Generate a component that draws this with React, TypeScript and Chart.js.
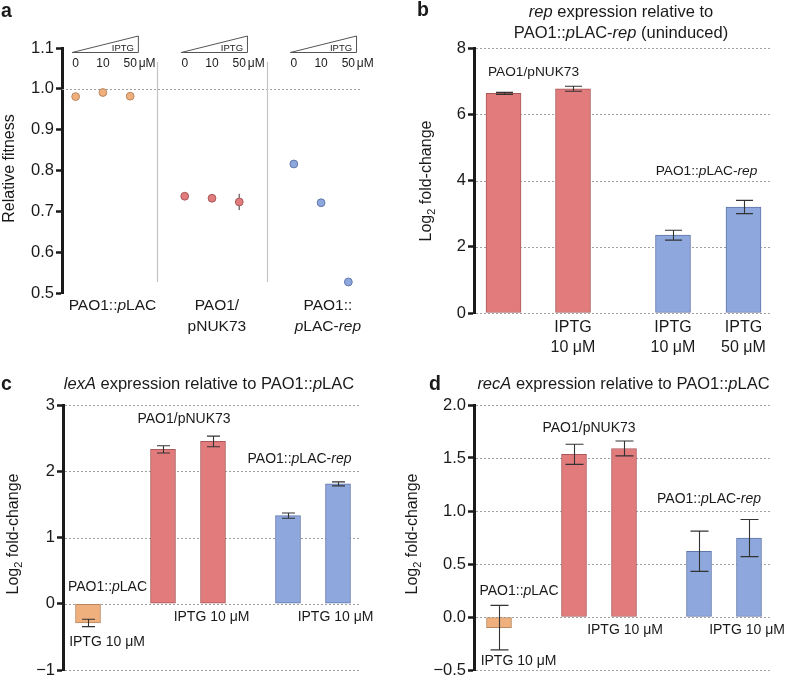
import React, { useEffect, useRef } from "react";
import { Chart, registerables } from "chart.js";
Chart.register(...registerables);

const FONT = "'Liberation Sans', Arial, Helvetica, sans-serif";
const INK = "#1a1a1a";

// ---------- Panel a : relative fitness ----------
const doseLabels = ["0", "10", "50"];
const fitnessGroupLabels = [["PAO1::*p*LAC"], ["PAO1/", "pNUK73"], ["PAO1::", "*p*LAC-*rep*"]];
const fitnessPLAC = [0.981, 0.991, 0.982];
const fitnessPNUK = [0.737, 0.732, 0.723];
const fitnessRep = [0.816, 0.721, 0.527];
const fitnessErrPLAC = [0.008, 0.005, 0.005];
const fitnessErrPNUK = [0.004, 0.004, 0.02];
const fitnessErrRep = [0.003, 0.003, 0.003];

// ---------- Panel b : rep expression ----------
const repTickLabels = [[], ["IPTG", "10 μM"], ["IPTG", "10 μM"], ["IPTG", "50 μM"]];
const repValues = [6.63, 6.77, 2.35, 3.2];
const repErrors = [0.03, 0.075, 0.15, 0.2];
const repStrain = [1, 1, 2, 2];

// ---------- Panel c : lexA expression ----------
const lexAValues = [-0.29, 2.33, 2.45, 1.33, 1.81];
const lexAErrors = [0.055, 0.055, 0.08, 0.04, 0.03];

// ---------- Panel d : recA expression ----------
const recAValues = [-0.1, 1.535, 1.59, 0.62, 0.745];
const recAErrors = [0.21, 0.095, 0.07, 0.19, 0.175];

const qpcrStrain = [0, 1, 1, 2, 2];

const FILL = ["#EFB07D", "#E27B7C", "#8EA8DD"];
const EDGE = ["#B8875F", "#A9595B", "#6076AA"];

function drawRich(
  ctx: CanvasRenderingContext2D,
  markup: string,
  x: number,
  y: number,
  size: number,
  align: "center" | "left" | "right" = "center",
  baseline: CanvasTextBaseline = "middle",
  weight = "normal"
) {
  const parts = markup.split("*");
  ctx.save();
  ctx.textBaseline = baseline;
  ctx.textAlign = "left";
  ctx.fillStyle = INK;
  const fonts = parts.map((_, i) => `${i % 2 ? "italic " : ""}${weight} ${size}px ${FONT}`);
  let total = 0;
  const widths = parts.map((p, i) => {
    ctx.font = fonts[i];
    const w = ctx.measureText(p).width;
    total += w;
    return w;
  });
  let cx = align === "center" ? x - total / 2 : align === "right" ? x - total : x;
  parts.forEach((p, i) => {
    ctx.font = fonts[i];
    ctx.fillText(p, cx, y);
    cx += widths[i];
  });
  ctx.restore();
}

function drawYTitle(ctx: CanvasRenderingContext2D, cx: number, cy: number, pre: string, sub: string, post: string, size: number) {
  ctx.save();
  ctx.translate(cx, cy);
  ctx.rotate(-Math.PI / 2);
  ctx.fillStyle = INK;
  ctx.textBaseline = "middle";
  ctx.textAlign = "left";
  const main = `${size}px ${FONT}`;
  const small = `${Math.round(size * 0.7)}px ${FONT}`;
  ctx.font = main;
  const w1 = ctx.measureText(pre).width;
  const w3 = ctx.measureText(post).width;
  ctx.font = small;
  const w2 = sub ? ctx.measureText(sub).width : 0;
  const total = w1 + w2 + w3;
  let x = -total / 2;
  ctx.font = main;
  ctx.fillText(pre, x, 0);
  x += w1;
  if (sub) {
    ctx.font = small;
    ctx.fillText(sub, x, size * 0.32);
    x += w2;
  }
  ctx.font = main;
  ctx.fillText(post, x, 0);
  ctx.restore();
}

function fmt(v: number, decimals: number) {
  const n = Math.abs(v) < 1e-9 ? 0 : v;
  return n.toFixed(decimals).replace("-", "−");
}

function yScale(min: number, max: number, step: number, width: number, decimals: number) {
  return {
    min,
    max,
    ticks: {
      stepSize: step,
      color: INK,
      font: { family: FONT, size: 16.5 },
      padding: 2,
      callback: (v: any) => fmt(Number(v), decimals),
    },
    grid: { drawOnChartArea: false, drawTicks: true, tickLength: 6, tickColor: INK, tickWidth: 2.5 },
    border: { display: true, color: INK, width: 3 },
    afterFit: (s: any) => {
      s.width = width;
      s.paddingTop = 0;
      s.paddingBottom = 0;
    },
  };
}

function dotted(ctx: CanvasRenderingContext2D, x0: number, x1: number, y: number) {
  ctx.save();
  ctx.strokeStyle = "#a0a0a0";
  ctx.lineWidth = 1;
  ctx.setLineDash([2, 2]);
  ctx.beginPath();
  ctx.moveTo(x0, Math.round(y) + 0.5);
  ctx.lineTo(x1, Math.round(y) + 0.5);
  ctx.stroke();
  ctx.restore();
}

function errorBar(ctx: CanvasRenderingContext2D, x: number, yTop: number, yBot: number, cap: number, color: string, lw: number) {
  ctx.save();
  ctx.strokeStyle = color;
  ctx.lineWidth = lw;
  ctx.beginPath();
  ctx.moveTo(x, yTop);
  ctx.lineTo(x, yBot);
  if (cap > 0) {
    ctx.moveTo(x - cap / 2, yTop);
    ctx.lineTo(x + cap / 2, yTop);
    ctx.moveTo(x - cap / 2, yBot);
    ctx.lineTo(x + cap / 2, yBot);
  }
  ctx.stroke();
  ctx.restore();
}

// ---------------- Panel a config ----------------
function makeFitness(): any {
  const groups = [fitnessPLAC, fitnessPNUK, fitnessRep];
  const errs = [fitnessErrPLAC, fitnessErrPNUK, fitnessErrRep];
  const slot = (g: number, i: number) => g * 4 + i + 0.5;
  const groupCenters = [1.85, 5.68, 9.75];
  const plugin = {
    id: "fitDecor",
    beforeDatasetsDraw(chart: any) {
      const { ctx, chartArea, scales } = chart;
      const xs = scales.x, ys = scales.y;
      dotted(ctx, chartArea.left, chartArea.right, ys.getPixelForValue(1.0));
      ctx.save();
      ctx.strokeStyle = "#c4c4c4";
      ctx.lineWidth = 1.2;
      [3.5, 7.5].forEach((v) => {
        const x = Math.round(xs.getPixelForValue(v)) + 0.5;
        ctx.beginPath();
        ctx.moveTo(x, ys.getPixelForValue(1.066));
        ctx.lineTo(x, ys.getPixelForValue(0.527));
        ctx.stroke();
      });
      ctx.restore();
      groups.forEach((vals, g) =>
        vals.forEach((v, i) => {
          const x = xs.getPixelForValue(slot(g, i));
          errorBar(ctx, x, ys.getPixelForValue(v + errs[g][i]), ys.getPixelForValue(v - errs[g][i]), 0, "#777", 1.5);
        })
      );
    },
    afterDraw(chart: any) {
      const { ctx, chartArea, scales } = chart;
      const xs = scales.x;
      for (let g = 0; g < 3; g++) {
        const x0 = xs.getPixelForValue(g * 4 + 0.37);
        const x1 = xs.getPixelForValue(g * 4 + 2.8);
        const yb = chartArea.top + 4.5;
        const yt = chartArea.top - 12;
        ctx.save();
        ctx.strokeStyle = "#555";
        ctx.lineWidth = 1;
        ctx.beginPath();
        ctx.moveTo(x0, yb);
        ctx.lineTo(x1, yt);
        ctx.lineTo(x1, yb);
        ctx.closePath();
        ctx.stroke();
        ctx.restore();
        drawRich(ctx, "IPTG", x1 - 15.5, chartArea.top, 9.5);
        doseLabels.forEach((d, i) => {
          drawRich(ctx, d, xs.getPixelForValue(slot(g, i)), chartArea.top + 15.5, 12);
        });
        drawRich(ctx, "μM", xs.getPixelForValue(slot(g, 2)) + 8.5, chartArea.top + 15.5, 12, "left");
        fitnessGroupLabels[g].forEach((line, k) => {
          drawRich(ctx, line, xs.getPixelForValue(groupCenters[g]), chartArea.bottom + 13 + k * 21, 15.5);
        });
      }
      drawYTitle(ctx, 10, (chartArea.top + chartArea.bottom) / 2 - 2, "Relative fitness", "", "", 16);
      drawRich(ctx, "a", 1, 17, 19.5, "left", "alphabetic", "bold");
    },
  };
  return {
    type: "scatter",
    data: {
      datasets: groups.map((vals, g) => ({
        data: vals.map((v, i) => ({ x: slot(g, i), y: v })),
        backgroundColor: FILL[g],
        borderColor: EDGE[g],
        borderWidth: 1,
        pointRadius: 3.9,
        pointHoverRadius: 3.9,
      })),
    },
    options: {
      animation: false,
      responsive: false,
      devicePixelRatio: 1,
      layout: { padding: { left: 0, top: 48, right: 32, bottom: 67 } },
      plugins: { legend: { display: false }, tooltip: { enabled: false } },
      scales: {
        x: { type: "linear", min: 0, max: 11, offset: false, display: false },
        y: yScale(0.5, 1.1, 0.1, 62, 1),
      },
    },
    plugins: [plugin],
  };
}

// ---------------- bar config ----------------
type Ann = { t: string; x: number; y: number; size: number };
function makeBars(o: {
  values: number[];
  errors: number[];
  strains: number[];
  slots: number[];
  thickness: number;
  cap: number;
  yMin: number;
  yMax: number;
  step: number;
  decimals: number;
  yWidth: number;
  padding: any;
  anns: Ann[];
  xLabels?: string[][];
  titles: { t: string; x: number; y: number }[];
  letter: { t: string; x: number; y: number };
  yTitlePos: { x: number; y: number };
}): any {
  const plugin = {
    id: "barDecor",
    beforeDatasetsDraw(chart: any) {
      const { ctx, chartArea, scales } = chart;
      scales.y.ticks.forEach((t: any) => dotted(ctx, chartArea.left + 2, chartArea.right, scales.y.getPixelForValue(t.value)));
    },
    afterDatasetsDraw(chart: any) {
      const { ctx, scales } = chart;
      o.values.forEach((v, i) => {
        const x = scales.x.getPixelForValue(o.slots[i]);
        errorBar(ctx, Math.round(x) + 0.5, scales.y.getPixelForValue(v + o.errors[i]), scales.y.getPixelForValue(v - o.errors[i]), o.cap, "#333", 1.1);
      });
    },
    afterDraw(chart: any) {
      const { ctx, chartArea, scales } = chart;
      o.anns.forEach((a) => drawRich(ctx, a.t, scales.x.getPixelForValue(a.x), scales.y.getPixelForValue(a.y), a.size));
      if (o.xLabels) {
        o.xLabels.forEach((lines, i) =>
          lines.forEach((l, k) => drawRich(ctx, l, scales.x.getPixelForValue(o.slots[i]), chartArea.bottom + 15 + k * 20, 16))
        );
      }
      o.titles.forEach((t) => drawRich(ctx, t.t, t.x, t.y, 16.5, "center", "alphabetic"));
      drawRich(ctx, o.letter.t, o.letter.x, o.letter.y, 19.5, "left", "alphabetic", "bold");
      drawYTitle(ctx, o.yTitlePos.x, o.yTitlePos.y, "Log", "2", " fold-change", 16);
    },
  };
  return {
    type: "bar",
    data: {
      datasets: [
        {
          data: o.values.map((v, i) => ({ x: o.slots[i], y: v })),
          backgroundColor: o.strains.map((s) => FILL[s]),
          borderColor: o.strains.map((s) => EDGE[s]),
          borderWidth: 1,
          borderSkipped: false,
          barThickness: o.thickness,
        },
      ],
    },
    options: {
      animation: false,
      responsive: false,
      devicePixelRatio: 1,
      layout: { padding: o.padding },
      plugins: { legend: { display: false }, tooltip: { enabled: false } },
      scales: {
        x: { type: "linear", min: 0, max: 5.94, offset: false, display: false },
        y: yScale(o.yMin, o.yMax, o.step, o.yWidth, o.decimals),
      },
    },
    plugins: [plugin],
  };
}

function makeRep() {
  return makeBars({
    values: repValues,
    errors: repErrors,
    strains: repStrain,
    slots: [0.59, 1.98, 3.98, 5.39],
    thickness: 35,
    cap: 17,
    yMin: 0,
    yMax: 8,
    step: 2,
    decimals: 0,
    yWidth: 80,
    padding: { left: 0, top: 48, right: 17, bottom: 47 },
    anns: [
      { t: "PAO1/pNUK73", x: 1.19, y: 7.27, size: 13.7 },
      { t: "PAO1::*p*LAC-*rep*", x: 4.65, y: 4.29, size: 13.7 },
    ],
    xLabels: repTickLabels,
    titles: [
      { t: "*rep* expression relative to", x: 227, y: 17 },
      { t: "PAO1::*p*LAC-*rep* (uninduced)", x: 227, y: 37.5 },
    ],
    letter: { t: "b", x: 23, y: 15.5 },
    yTitlePos: { x: 33, y: 181 },
  });
}

function makeLexA() {
  return makeBars({
    values: lexAValues,
    errors: lexAErrors,
    strains: qpcrStrain,
    slots: [0.5, 2, 3, 4.5, 5.5],
    thickness: 25,
    cap: 13,
    yMin: -1,
    yMax: 3,
    step: 1,
    decimals: 0,
    yWidth: 63,
    padding: { left: 0, top: 65, right: 34, bottom: 9 },
    anns: [
      { t: "PAO1::*p*LAC", x: 0.89, y: 0.253, size: 14 },
      { t: "IPTG 10 μM", x: 0.88, y: -0.577, size: 14 },
      { t: "PAO1/pNUK73", x: 2.42, y: 2.79, size: 14 },
      { t: "IPTG 10 μM", x: 2.97, y: -0.195, size: 14 },
      { t: "PAO1::*p*LAC-*rep*", x: 4.73, y: 2.18, size: 14 },
      { t: "IPTG 10 μM", x: 5.45, y: -0.2, size: 14 },
    ],
    titles: [{ t: "*lexA* expression relative to PAO1::*p*LAC", x: 209, y: 49.3 }],
    letter: { t: "c", x: 1, y: 49.5 },
    yTitlePos: { x: 14, y: 194 },
  });
}

function makeRecA() {
  return makeBars({
    values: recAValues,
    errors: recAErrors,
    strains: qpcrStrain,
    slots: [0.5, 2, 3, 4.5, 5.5],
    thickness: 25,
    cap: 18,
    yMin: -0.5,
    yMax: 2,
    step: 0.5,
    decimals: 1,
    yWidth: 80,
    padding: { left: 0, top: 65, right: 17, bottom: 9 },
    anns: [
      { t: "PAO1::*p*LAC", x: 0.9, y: 0.245, size: 14 },
      { t: "IPTG 10 μM", x: 0.89, y: -0.42, size: 14 },
      { t: "PAO1/pNUK73", x: 2.3, y: 1.78, size: 14 },
      { t: "IPTG 10 μM", x: 3.02, y: -0.123, size: 14 },
      { t: "PAO1::*p*LAC-*rep*", x: 4.7, y: 1.113, size: 14 },
      { t: "IPTG 10 μM", x: 5.46, y: -0.123, size: 14 },
    ],
    titles: [{ t: "*recA* expression relative to PAO1::*p*LAC", x: 229.5, y: 49.3 }],
    letter: { t: "d", x: 35, y: 49.5 },
    yTitlePos: { x: 19, y: 194 },
  });
}

function ChartPanel({ left, top, width, height, make }: { left: number; top: number; width: number; height: number; make: () => any }) {
  const ref = useRef<HTMLCanvasElement | null>(null);
  useEffect(() => {
    const chart = new Chart(ref.current as HTMLCanvasElement, make());
    return () => chart.destroy();
  }, []);
  return <canvas ref={ref} width={width} height={height} style={{ position: "absolute", left, top, width, height }} />;
}

export default function App() {
  return (
    <div style={{ position: "absolute", left: 0, top: 0, width: 788, height: 679, background: "#fff", overflow: "hidden" }}>
      <ChartPanel left={0} top={0} width={394} height={360} make={makeFitness} />
      <ChartPanel left={394} top={0} width={394} height={360} make={makeRep} />
      <ChartPanel left={0} top={340} width={394} height={339} make={makeLexA} />
      <ChartPanel left={394} top={340} width={394} height={339} make={makeRecA} />
    </div>
  );
}
